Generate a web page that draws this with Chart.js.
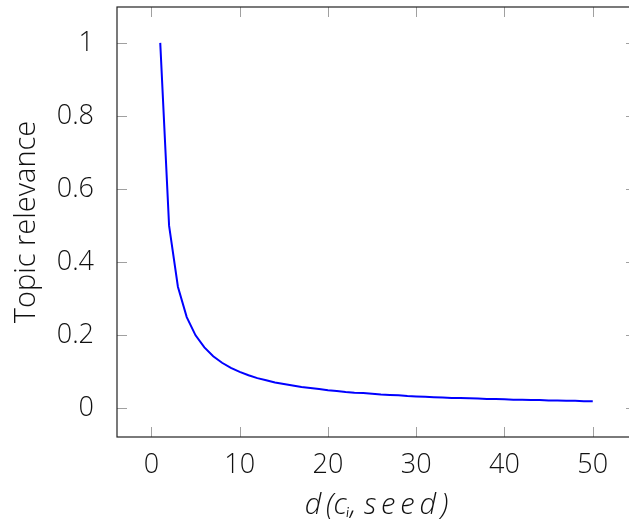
<!DOCTYPE html>
<html>
<head>
<meta charset="utf-8">
<script src="https://cdn.jsdelivr.net/npm/chart.js@4"></script>
<style>
  html, body { margin: 0; padding: 0; background: #fff; overflow: hidden; }
  #wrap { width: 640px; height: 527px; }
</style>
</head>
<body>
<div id="wrap"><canvas id="relevanceChart"></canvas></div>
<script>
  // distance d(c_i, seed) and the topic relevance read at each step
  const distances = [1, 2, 3, 4, 5, 6, 7, 8, 9, 10, 11, 12, 13, 14, 15, 16, 17, 18, 19, 20,
    21, 22, 23, 24, 25, 26, 27, 28, 29, 30, 31, 32, 33, 34, 35, 36, 37, 38, 39, 40,
    41, 42, 43, 44, 45, 46, 47, 48, 49, 50];
  const relevance = [1, 0.5, 0.333, 0.25, 0.2, 0.167, 0.143, 0.125, 0.111, 0.1,
    0.091, 0.083, 0.077, 0.071, 0.067, 0.063, 0.059, 0.056, 0.053, 0.05,
    0.048, 0.045, 0.043, 0.042, 0.04, 0.038, 0.037, 0.036, 0.034, 0.033,
    0.032, 0.031, 0.03, 0.029, 0.029, 0.028, 0.027, 0.026, 0.026, 0.025,
    0.024, 0.024, 0.023, 0.023, 0.022, 0.022, 0.021, 0.021, 0.02, 0.02];
  const xTicks = [0, 10, 20, 30, 40, 50];
  const yTicks = [0, 0.2, 0.4, 0.6, 0.8, 1];

  const font = '"Open Sans", Lato, sans-serif';
  const tickGray = '#a0a0a0';

  // pgfplots-style box: ticks pointing inward on all four sides
  const innerTicks = {
    id: 'innerTicks',
    afterDraw(chart) {
      const { ctx, chartArea: a, scales } = chart;
      const len = 10;
      ctx.save();
      ctx.strokeStyle = tickGray;
      ctx.lineWidth = 1;
      ctx.beginPath();
      xTicks.forEach((v) => {
        const px = Math.round(scales.x.getPixelForValue(v)) + 0.5;
        ctx.moveTo(px, a.bottom); ctx.lineTo(px, a.bottom - len);
        ctx.moveTo(px, a.top); ctx.lineTo(px, a.top + len);
      });
      yTicks.forEach((v) => {
        const py = Math.round(scales.y.getPixelForValue(v)) + 0.5;
        ctx.moveTo(a.left, py); ctx.lineTo(a.left + len, py);
        ctx.moveTo(a.right, py); ctx.lineTo(a.right - len, py);
      });
      ctx.stroke();
      ctx.strokeStyle = '#222';
      ctx.lineWidth = 1.2;
      ctx.strokeRect(a.left, a.top, a.right - a.left, a.bottom - a.top);
      ctx.restore();
    },
  };

  new Chart(document.getElementById('relevanceChart'), {
    type: 'line',
    data: {
      labels: distances,
      datasets: [{
        data: distances.map((d, i) => ({ x: d, y: relevance[i] })),
        borderColor: '#0000ff',
        borderWidth: 2,
        pointRadius: 0,
        tension: 0,
        fill: false,
      }],
    },
    options: {
      responsive: true,
      maintainAspectRatio: false,
      animation: false,
      layout: { padding: { top: 7, right: 4, left: 0, bottom: 0 } },
      plugins: { legend: { display: false }, tooltip: { enabled: false } },
      scales: {
        x: {
          type: 'linear',
          min: -3.9,
          max: 54.9,
          afterBuildTicks: (scale) => { scale.ticks = xTicks.map((v) => ({ value: v })); },
          afterFit: (scale) => { scale.height = 90; scale.paddingLeft = 0; scale.paddingRight = 0; },
          grid: { display: false },
          border: { display: false },
          ticks: { color: '#111', padding: 4, font: { family: font, size: 27, weight: 300 }, maxRotation: 0 },
          title: {
            display: true,
            text: 'd\u2009(c\u1D62, s\u2009e\u2009e\u2009d\u2009)',
            color: '#111',
            padding: { top: 4, bottom: 4 },
            font: { family: font, size: 29, style: 'italic', weight: 300 },
          },
        },
        y: {
          min: -0.078,
          max: 1.098,
          afterBuildTicks: (scale) => { scale.ticks = yTicks.map((v) => ({ value: v })); },
          afterFit: (scale) => { scale.width = 117; scale.paddingTop = 0; scale.paddingBottom = 0; },
          grid: { display: false },
          border: { display: false },
          ticks: {
            color: '#111',
            padding: 15,
            font: { family: font, size: 27, weight: 300 },
            callback: (v) => String(v),
          },
          title: {
            display: true,
            text: 'Topic relevance',
            color: '#111',
            padding: { top: 9, bottom: 0 },
            font: { family: font, size: 29, weight: 300 },
          },
        },
      },
    },
    plugins: [innerTicks],
  });
</script>
</body>
</html>
